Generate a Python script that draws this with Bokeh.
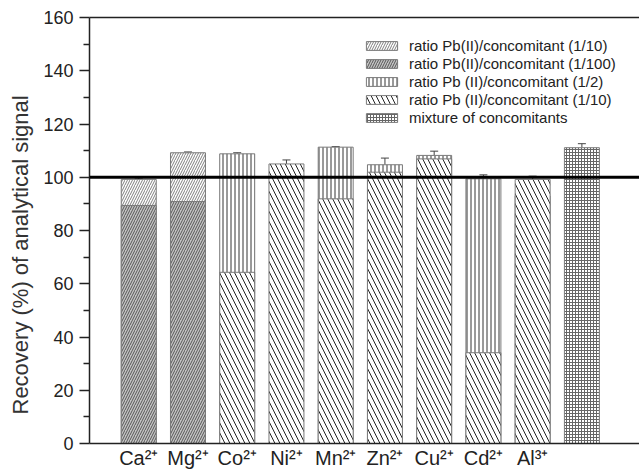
import math
from bokeh.plotting import figure
from bokeh.models import (Range1d, Span, Whisker, ColumnDataSource,
                          LinearAxis, TeeHead, FixedTicker)
from bokeh.embed import file_html
from bokeh.resources import INLINE

# ---------------- data ----------------
metals = ["Ca", "Mg", "Co", "Ni", "Mn", "Zn", "Cu", "Cd", "Al"]
charges = ["²⁺", "²⁺", "²⁺", "²⁺", "²⁺", "²⁺", "²⁺", "²⁺", "³⁺"]

# ratio Pb(II)/concomitant (1/10)  (light hatch)
a_metals = ["Ca", "Mg"]
a_vals = [99.2, 109.2]
a_errs = [0.5, 0.3]
# ratio Pb(II)/concomitant (1/100)  (gray hatch)
b_metals = ["Ca", "Mg"]
b_vals = [89.4, 90.9]
b_errs = [1.2, 0.6]
# ratio Pb (II)/concomitant (1/2)  (vertical lines)
c_metals = ["Co", "Mn", "Zn", "Cu", "Cd", "Al"]
c_vals = [108.8, 111.3, 104.7, 108.2, 99.4, 93.0]
c_errs = [0.4, 0.2, 2.5, 1.6, 1.5, 1.4]
# ratio Pb (II)/concomitant (1/10)  (back diagonal)
d_metals = ["Co", "Ni", "Mn", "Zn", "Cu", "Cd", "Al"]
d_vals = [64.3, 105.0, 91.9, 101.9, 106.9, 34.1, 99.2]
d_errs = [1.9, 1.5, 1.2, 0.8, 1.0, 7.7, 1.2]
# mixture of concomitants
e_vals = [111.1]
e_errs = [1.5]

legend_labels = ["ratio Pb(II)/concomitant (1/10)",
                 "ratio Pb(II)/concomitant (1/100)",
                 "ratio Pb (II)/concomitant (1/2)",
                 "ratio Pb (II)/concomitant (1/10)",
                 "mixture of concomitants"]

y_ticks = [0, 20, 40, 60, 80, 100, 120, 140, 160]
y_minor = [10, 30, 50, 70, 90, 110, 130, 150]
y_label = "Recovery (%) of analytical signal"

# ---------------- layout ----------------
W, H = 639, 472
LEFT, RIGHT, TOP, BOTTOM = 89, 0, 17, 29
X_END = 11.17
FONT = "Liberation Sans"
TXT = "#222222"

pos = {m: i + 1 for i, m in enumerate(metals)}
mix_pos = [len(metals) + 1]

p = figure(width=W, height=H, x_range=Range1d(0, X_END), y_range=Range1d(0, 160),
           output_backend="svg", toolbar_location=None,
           min_border_left=LEFT, min_border_right=RIGHT,
           min_border_top=TOP, min_border_bottom=BOTTOM)
p.xgrid.visible = False
p.ygrid.visible = False
p.outline_line_color = None
p.background_fill_color = "white"

BW = 0.71
EDGE = "#7a7a7a"

def bars(names_or_pos, vals, fill, pattern, hcolor, hscale, label, hweight=1.0):
    xs = [pos[n] for n in names_or_pos] if isinstance(names_or_pos[0], str) else names_or_pos
    src = ColumnDataSource(dict(x=xs, top=vals))
    p.vbar(x="x", top="top", width=BW, bottom=0, source=src,
           fill_color=fill, line_color=EDGE, line_width=1,
           hatch_pattern=pattern, hatch_color=hcolor, hatch_scale=hscale,
           hatch_weight=hweight, legend_label=label)
    return xs

xa = bars(a_metals, a_vals, "white", "/", "#808080", 5, legend_labels[0])
xb = bars(b_metals, b_vals, "#c4c4c4", "/", "#555555", 5, legend_labels[1])
xc = bars(c_metals, c_vals, "white", "|", "#333333", 4, legend_labels[2])
xd = bars(d_metals, d_vals, "white", "\\", "#222222", 10, legend_labels[3])
xe = bars(mix_pos, e_vals, "white", "+", "#666666", 3, legend_labels[4])

# 100 % reference line
p.add_layout(Span(location=100, dimension="width", line_color="black", line_width=3))

# error bars (plus direction)
ex, elo, ehi = [], [], []
for xs, vs, es in [(xa, a_vals, a_errs), (xb, b_vals, b_errs), (xc, c_vals, c_errs),
                   (xd, d_vals, d_errs), (xe, e_vals, e_errs)]:
    for x, v, e in zip(xs, vs, es):
        ex.append(x); elo.append(v); ehi.append(v + e)
esrc = ColumnDataSource(dict(base=ex, lower=elo, upper=ehi))
p.add_layout(Whisker(base="base", lower="lower", upper="upper", source=esrc,
                     dimension="height", line_color="#444444", line_width=1,
                     upper_head=TeeHead(size=8, line_color="#444444", line_width=1),
                     lower_head=None))

# y axis
yax = p.yaxis[0]
yax.ticker = FixedTicker(ticks=y_ticks, minor_ticks=y_minor)
yax.axis_line_color = "#222222"
yax.axis_line_width = 1.5
yax.major_tick_line_color = "#222222"
yax.major_tick_line_width = 1.5
yax.minor_tick_line_color = "#222222"
yax.minor_tick_line_width = 1.5
yax.major_tick_in = 0
yax.major_tick_out = 10
yax.minor_tick_in = 0
yax.minor_tick_out = 6
yax.major_label_standoff = 6
yax.major_label_text_font = FONT
yax.major_label_text_font_size = "18px"
yax.major_label_text_color = TXT
# trailing no-break spaces shift the centred title towards the bottom, as in the reference
yax.axis_label = y_label + "\u00a0" * 8
yax.axis_label_text_font = FONT
yax.axis_label_text_font_size = "22px"
yax.axis_label_text_font_style = "normal"
yax.axis_label_text_color = "#333333"
yax.axis_label_standoff = 7

# x axis with ion labels
xax = p.xaxis[0]
xax.ticker = FixedTicker(ticks=[pos[m] for m in metals], minor_ticks=[])
xax.major_label_overrides = {pos[m]: m + ch for m, ch in zip(metals, charges)}
xax.axis_line_color = "#222222"
xax.axis_line_width = 1.5
xax.major_tick_line_color = None
xax.minor_tick_line_color = None
xax.major_tick_in = 0
xax.major_tick_out = 0
xax.major_label_standoff = 3
xax.major_label_text_font = FONT
xax.major_label_text_font_size = "20px"
xax.major_label_text_color = TXT

top_ax = LinearAxis(ticker=FixedTicker(ticks=[], minor_ticks=[]),
                    axis_line_color="#222222", axis_line_width=1.5,
                    major_tick_line_color=None, minor_tick_line_color=None,
                    major_label_standoff=0)
p.add_layout(top_ax, "above")

# legend (bottom-left corner given relative to the frame's bottom-left)
lg = p.legend[0]
lg.location = (273, 317)
lg.padding = 8
lg.border_line_color = None
lg.background_fill_alpha = 0
lg.label_text_font = FONT
lg.label_text_font_size = "15px"
lg.label_text_color = TXT
lg.glyph_width = 39
lg.glyph_height = 11
lg.label_height = 18
lg.label_standoff = 8
lg.spacing = 0

open("out.html", "w").write(file_html(p, INLINE))
